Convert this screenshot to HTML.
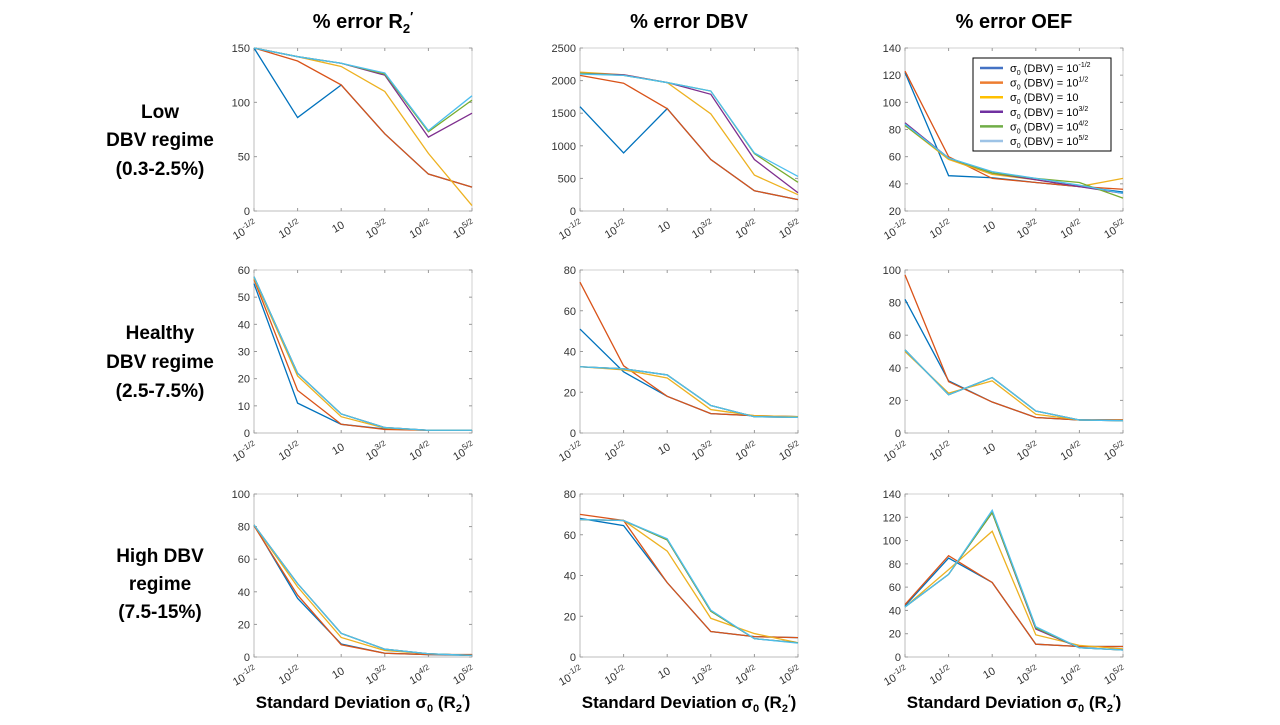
<!DOCTYPE html>
<html><head><meta charset="utf-8"><style>
body{margin:0;background:#fff;width:1280px;height:720px;overflow:hidden}
svg{font-family:"Liberation Sans",sans-serif}
</style></head><body>
<svg id="fig" width="1280" height="720"></svg>
<script>
const xCategories=["10^-1/2","10^1/2","10","10^3/2","10^4/2","10^5/2"];
const seriesNames=["-1/2","1/2","","3/2","4/2","5/2"];
const colors=["#0072BD","#D95319","#EDB120","#7E2F8E","#77AC30","#4DBEEE"];
const colTitles=["R2","DBV","OEF"];
const yTicksR2Low=[0,50,100,150];
const yTicksDbvLow=[0,500,1000,1500,2000,2500];
const yTicksOefLow=[20,40,60,80,100,120,140];
const yTicksR2Healthy=[0,10,20,30,40,50,60];
const yTicks0to80=[0,20,40,60,80];
const yTicks0to100=[0,20,40,60,80,100];
const yTicks0to140=[0,20,40,60,80,100,120,140];
const r2Low=[[150,86,116,71,34,22],[150,138,116,71,34,22],[150,142,133,110,53,5],[150,142,136,125,68,90],[150,142,136,126,73,102],[150,142,136,127,74,106]];
const dbvLow=[[1600,890,1570,790,310,175],[2080,1960,1570,790,310,175],[2130,2090,1970,1490,550,250],[2110,2090,1970,1790,790,280],[2110,2080,1970,1840,880,440],[2100,2080,1970,1840,890,530]];
const oefLow=[[122,46,44.5,41,38,34],[123,60,44,41,38,36],[83,58,47,43,38,44],[85,59,48,43,38,33],[83,59,48,44,41,29.5],[84,59,49,44,39,33]];
const r2Healthy=[[55,11,3.2,1.5,1,1],[56.5,15.7,3.2,1.3,1,1],[57,21,6,1.8,1,1],[57.5,22,7,2,1,1],[57.5,22,7,2,1,1],[57.5,22,7,2,1,1]];
const dbvHealthy=[[51,30,18,9.5,8.5,8],[74,33,18,9.5,8.5,8],[32.5,31,27,11.5,8.5,8],[32.5,31.5,28.5,13.5,8,7.7],[32.5,31.5,28.5,13.5,8,7.7],[32.5,31.5,28.5,13.5,8,7.7]];
const oefHealthy=[[82,32,19,9.5,8,8],[97,31.5,19,9.5,8,8],[50,24.5,32,11.5,8,7.7],[51,23.5,34,13.5,8,7.5],[51,23.5,34,13.5,8,7.5],[51,23.5,34,13.5,8,7.5]];
const r2High=[[81,36,8,2.3,1.5,1],[80.5,38,7.5,2.3,1.5,1.5],[81,43,12,4,2,1],[81,45,14.5,4.8,2,1],[81,45,14.5,4.8,2,1],[81,45,14.5,4.8,2,1]];
const dbvHigh=[[68,64.5,36.5,12.5,10,9.5],[70,67,36.5,12.5,10,9.5],[67.5,67,52,19,11.5,7],[67.5,67,57.5,22.5,9,7],[67.5,67,57.5,22.5,9,7],[67.5,67,58,23,9,6.8]];
const oefHigh=[[44,85,64,11,9,9],[45,87,64,11,9,9],[43,75,108,19,10,7],[43,71,124,24,8,6],[43,71,124,25,8,6],[43,71,126,26,8,6]];

const NS="http://www.w3.org/2000/svg";
const svg=document.getElementById('fig');
function el(tag,attrs,parent){const e=document.createElementNS(NS,tag);for(const k in attrs)e.setAttribute(k,attrs[k]);(parent||svg).appendChild(e);return e;}
function powLabel(t,parent,cat){
  if(cat.indexOf('^')<0){t.textContent=cat;return;}
  const [b,p]=cat.split('^');
  const s1=el('tspan',{},t);s1.textContent=b;
  const s2=el('tspan',{dy:-5,'font-size':8},t);s2.textContent=p;
}
const colX=[[254,472],[580,798],[905,1123]];
const rowY=[[48,211],[270,433],[494,657]];
const panels=[
 [r2Low,yTicksR2Low,"r2-low"],[dbvLow,yTicksDbvLow,"dbv-low"],[oefLow,yTicksOefLow,"oef-low"],
 [r2Healthy,yTicksR2Healthy,"r2-healthy"],[dbvHealthy,yTicks0to80,"dbv-healthy"],[oefHealthy,yTicks0to100,"oef-healthy"],
 [r2High,yTicks0to100,"r2-high"],[dbvHigh,yTicks0to80,"dbv-high"],[oefHigh,yTicks0to140,"oef-high"]];
panels.forEach((p,i)=>{
  const r=Math.floor(i/3),c=i%3;
  const [x0,x1]=colX[c],[y0,y1]=rowY[r];
  const [data,ticks,name]=p;
  const ymin=ticks[0],ymax=ticks[ticks.length-1];
  const xs=k=>x0+(x1-x0)*k/(xCategories.length-1);
  const ys=v=>y1-(y1-y0)*(v-ymin)/(ymax-ymin);
  const g=el('g',{});
  
  
  el('rect',{x:x0,y:y0,width:x1-x0,height:y1-y0,fill:'#fff',stroke:'#d0d0d0','stroke-width':1},g);
  el('line',{x1:x0,y1:y0,x2:x0,y2:y1,stroke:'#bdbdbd'},g);
  el('line',{x1:x0,y1:y1,x2:x1,y2:y1,stroke:'#bdbdbd'},g);
  ticks.forEach(t=>{
    const y=ys(t);
    el('line',{x1:x0,y1:y,x2:x0+3,y2:y,stroke:'#999'},g);
    el('line',{x1:x1,y1:y,x2:x1-3,y2:y,stroke:'#999'},g);
    const tx=el('text',{x:x0-4,y:y+4,'text-anchor':'end','font-size':11,fill:'#333'},g);
    
    
    tx.textContent=t;
  });
  xCategories.forEach((cat,k)=>{
    const x=xs(k);
    el('line',{x1:x,y1:y1,x2:x,y2:y1-3,stroke:'#999'},g);
    el('line',{x1:x,y1:y0,x2:x,y2:y0+3,stroke:'#999'},g);
    const tx=el('text',{x:0,y:0,'text-anchor':'end','font-size':11,fill:'#333',transform:`translate(${x+4},${y1+16}) rotate(-30)`},g);
    
    
    powLabel(tx,g,cat);
  });
  data.forEach((s,j)=>{
    const pl=el('polyline',{points:s.map((v,k)=>xs(k)+','+ys(v)).join(' '),fill:'none',stroke:colors[j],'stroke-width':1.3},g);
    
    
  });
});
// column titles
const titleX=[363,689,1014];
titleX.forEach((x,c)=>{
  const t=el('text',{x:x,y:28,'text-anchor':'middle','font-size':20,'font-weight':'bold',fill:'#000'});
  
  
  if(c===0){const a=el('tspan',{},t);a.textContent='% error R';const b=el('tspan',{dy:5,'font-size':13},t);b.textContent='2';const d=el('tspan',{dy:-12,'font-size':13},t);d.textContent='′';}
  else t.textContent='% error '+colTitles[c];
  const xl=el('text',{x:x,y:708,'text-anchor':'middle','font-size':17,'font-weight':'bold',fill:'#000'});
  
  
  const a=el('tspan',{},xl);a.textContent='Standard  Deviation σ';
  const b=el('tspan',{dy:4,'font-size':11},xl);b.textContent='0';
  const d=el('tspan',{dy:-4},xl);d.textContent=' (R';
  const e=el('tspan',{dy:4,'font-size':11},xl);e.textContent='2';
  const f=el('tspan',{dy:-10,'font-size':11},xl);f.textContent='′';
  const h=el('tspan',{dy:6},xl);h.textContent=')';
});
// row labels
const rowLabels=[[["Low",118],["DBV regime",146],["(0.3-2.5%)",175]],[["Healthy",339],["DBV regime",368],["(2.5-7.5%)",397]],[["High DBV",562],["regime",590],["(7.5-15%)",618]]];
rowLabels.forEach((rl,r)=>{rl.forEach(([s,y])=>{
  const t=el('text',{x:160,y:y,'text-anchor':'middle','font-size':19,'font-weight':'bold',fill:'#000'});
  
  
  t.textContent=s;
});});
// legend
const lg=el('g',{});


el('rect',{x:973,y:58,width:138,height:93,fill:'#fff',stroke:'#000','stroke-width':1},lg);
const legColors=["#4472C4","#ED7D31","#FFC000","#7030A0","#70AD47","#9DC3E6"];
seriesNames.forEach((p,j)=>{
  const y=68+j*14.6;
  el('line',{x1:980,y1:y,x2:1003,y2:y,stroke:legColors[j],'stroke-width':2.5},lg);
  const t=el('text',{x:1010,y:y+4,'font-size':11,fill:'#000'},lg);
  
  
  const a=el('tspan',{},t);a.textContent='σ';
  const b=el('tspan',{dy:3,'font-size':7},t);b.textContent='0';
  const d=el('tspan',{dy:-3},t);d.textContent=' (DBV) = 10';
  if(p){const e=el('tspan',{dy:-5,'font-size':7},t);e.textContent=p;}
});
</script>
</body></html>
